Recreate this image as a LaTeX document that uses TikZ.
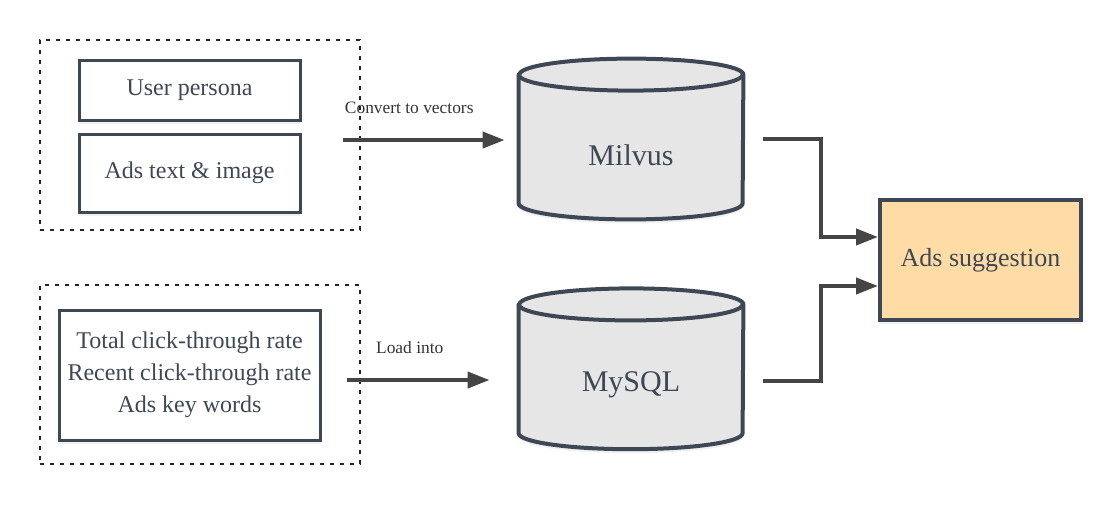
\documentclass[tikz,border=0pt]{standalone}
\usepackage{fontspec}
\setmainfont{Liberation Serif}
\usepackage{tikz}
\usetikzlibrary{positioning}
\usetikzlibrary{arrows.meta}
\usetikzlibrary{shadows}
\usetikzlibrary{backgrounds}
\definecolor{slate}{HTML}{3E4855}
\definecolor{inkgray}{HTML}{454545}
\definecolor{dbgray}{HTML}{E6E6E6}
\definecolor{peach}{HTML}{FFDBA5}
\tikzstyle{groupbox} = [rectangle, draw=black!85, line width=1pt, dash pattern=on 2pt off 3pt, inner sep=0pt]
\tikzstyle{source} = [rectangle, draw=slate, line width=1.5pt, fill=white, text=slate, inner sep=0pt, align=center, font=\fontsize{12}{16}\selectfont, drop shadow={opacity=0.12, shadow xshift=0pt, shadow yshift=-2pt}]
\tikzstyle{db} = [rectangle, minimum width=112pt, minimum height=64pt, inner sep=0pt, text=slate, font=\fontsize{15}{18}\selectfont]
\tikzstyle{dbbody} = [draw=slate, line width=2pt, line join=round, fill=dbgray]
\tikzstyle{result} = [rectangle, draw=slate, line width=2pt, fill=peach, text=slate, inner sep=0pt, font=\fontsize{13}{16}\selectfont, drop shadow={opacity=0.12, shadow xshift=0pt, shadow yshift=-2pt}]
\tikzstyle{arrow} = [line width=2pt, draw=inkgray, -{Triangle[length=11pt, width=8pt, fill=inkgray]}]
\tikzstyle{edgetext} = [font=\fontsize{8.7}{10}\selectfont, text=black!80, inner sep=0pt]

\begin{document}
\begin{tikzpicture}[x=0.5pt, y=-0.5pt]
        \useasboundingbox (0,0) rectangle (1120,505);

        \node (vecgroup) [groupbox, minimum width=160pt, minimum height=95pt] at (200,135) {};
        \node (loadgroup) [groupbox, minimum width=160pt, minimum height=89.5pt] at (200,374.5) {};

        \node (persona) [source, minimum width=110.5pt, minimum height=30pt] at (189.5,90) {User persona};
        \node (adstext) [source, below=5.5pt of persona, minimum width=110.5pt, minimum height=39pt] {Ads text \& image};
        \node (metrics) [source, minimum width=130.5pt, minimum height=65pt] at (189.5,375) {Total click-through rate\\ Recent click-through rate\\ Ads key words};

        \node (milvus) [db] at (631,155) {Milvus};
        \node (mysql) [db, below=50.5pt of milvus] {MySQL};
        \node (suggest) [result, minimum width=100.5pt, minimum height=60pt] at (980.5,260) {Ads suggestion};

        \coordinate (convstart) at (343,140);
        \coordinate (loadstart) at (347,380);

        \begin{scope}[on background layer]
        \foreach \db in {milvus, mysql} {
            \draw [dbbody, drop shadow={opacity=0.12, shadow xshift=0pt, shadow yshift=-2pt}] ([yshift=8pt]\db.north west) -- ([yshift=8pt]\db.south west) arc[start angle=180, end angle=360, x radius=56pt, y radius=8pt] -- ([yshift=8pt]\db.north east) arc[start angle=0, end angle=180, x radius=56pt, y radius=8pt] -- cycle;
            \draw [dbbody, fill=none] ([yshift=8pt]\db.north west) arc[start angle=180, end angle=360, x radius=56pt, y radius=8pt];
        }
        \end{scope}

        \draw [arrow] (convstart) -- node[edgetext, pos=0.41, yshift=16pt] {Convert to vectors} ([xshift=-7pt]convstart -| milvus.west);
        \draw [arrow] (loadstart) -- node[edgetext, pos=0.44, yshift=16pt] {Load into} ([xshift=-14.5pt]loadstart -| mysql.west);
        \draw [arrow] ([xshift=10pt, yshift=8pt]milvus.east) -- ++(29pt,0) |- ([yshift=11.5pt]suggest.west);
        \draw [arrow] ([xshift=10pt, yshift=2pt]mysql.east) -- ++(29pt,0) |- ([yshift=-13pt]suggest.west);

    \end{tikzpicture}
\end{document}
